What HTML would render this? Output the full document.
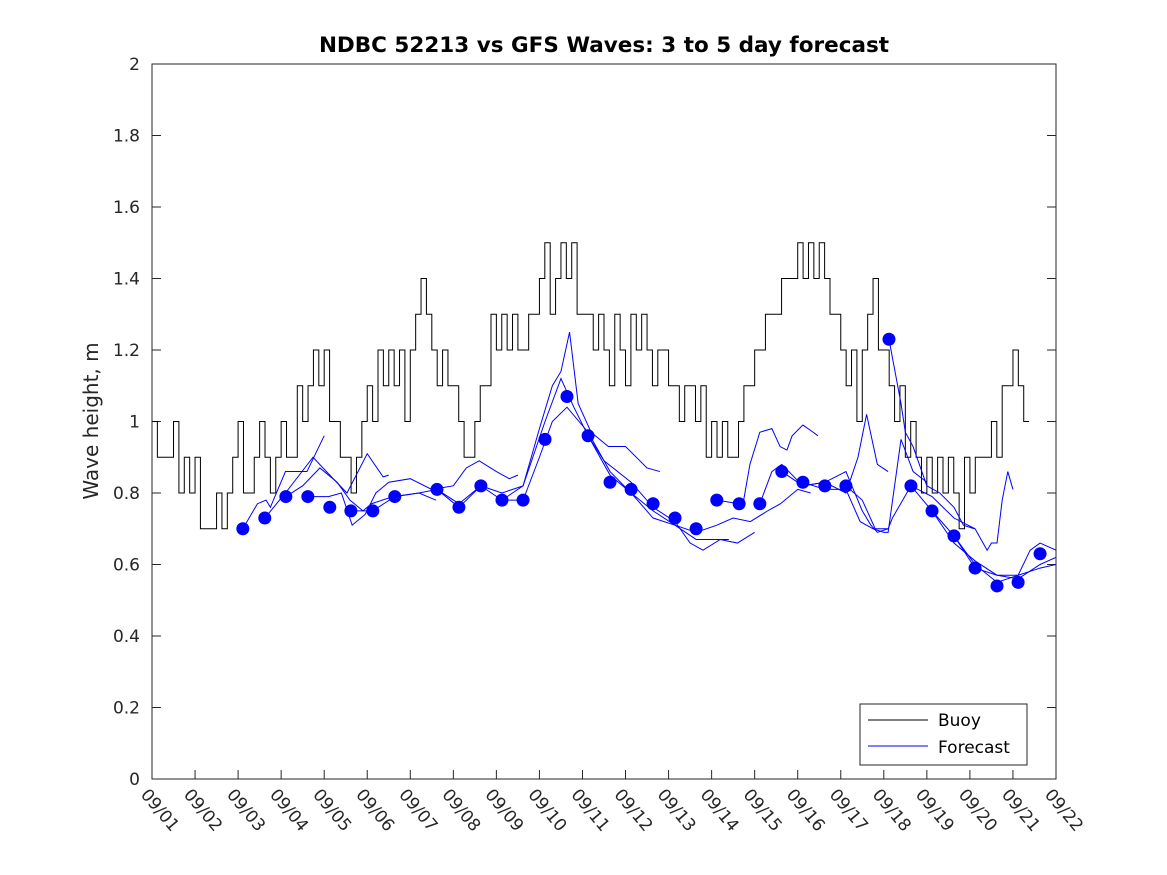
<!DOCTYPE html>
<html><head><meta charset="utf-8"><style>
body{margin:0;background:#fff;}
svg{display:block;font-family:"DejaVu Sans","Liberation Sans",sans-serif;}
</style></head><body>
<svg id="chart" width="1167" height="875" viewBox="0 0 1167 875" xmlns="http://www.w3.org/2000/svg">
<rect width="1167" height="875" fill="#fff"/>
<defs><clipPath id="clip"><rect x="152" y="64" width="904" height="715"/></clipPath></defs>
<text x="604" y="52" text-anchor="middle" font-size="21.5" font-weight="bold" fill="#000">NDBC 52213 vs GFS Waves: 3 to 5 day forecast</text>
<text transform="translate(98,421) rotate(-90)" text-anchor="middle" font-size="20" fill="#262626">Wave height, m</text>
<g id="axes"></g>
<g id="marks" clip-path="url(#clip)"></g>
<rect x="152" y="64" width="904" height="715" fill="none" stroke="#262626" stroke-width="1"/>
<g>
<rect x="860" y="704" width="167" height="61" fill="#fff" stroke="#262626" stroke-width="1"/>
<line x1="868" y1="720" x2="928" y2="720" stroke="#000" stroke-width="1"/>
<text x="938" y="726" font-size="17" fill="#000">Buoy</text>
<line x1="868" y1="746" x2="928" y2="746" stroke="#0000ff" stroke-width="1"/>
<text x="938" y="753" font-size="17" fill="#000">Forecast</text>
</g>
</svg>
<script>
const xTickLabels=["09/01","09/02","09/03","09/04","09/05","09/06","09/07","09/08","09/09","09/10","09/11","09/12","09/13","09/14","09/15","09/16","09/17","09/18","09/19","09/20","09/21","09/22"];
const yTicks=[0,0.2,0.4,0.6,0.8,1,1.2,1.4,1.6,1.8,2];
const yTickLabels=["0","0.2","0.4","0.6","0.8","1","1.2","1.4","1.6","1.8","2"];
const buoyStartDay=1;
const buoyStepDays=0.125;
const buoyValues=[1.0,0.9,0.9,0.9,1.0,0.8,0.9,0.8,
0.9,0.7,0.7,0.7,0.8,0.7,0.8,0.9,
1.0,0.8,0.8,0.9,1.0,0.9,0.8,0.9,
1.0,0.9,0.9,1.1,1.0,1.1,1.2,1.1,
1.2,1.0,1.0,0.9,0.9,0.8,0.9,1.0,
1.1,1.0,1.2,1.1,1.2,1.1,1.2,1.0,
1.2,1.3,1.4,1.3,1.2,1.1,1.2,1.1,
1.1,1.0,0.9,0.9,1.0,1.1,1.1,1.3,
1.2,1.3,1.2,1.3,1.2,1.2,1.3,1.3,
1.4,1.5,1.3,1.4,1.5,1.4,1.5,1.3,
1.3,1.3,1.2,1.3,1.2,1.1,1.3,1.2,
1.1,1.3,1.2,1.3,1.2,1.1,1.2,1.2,
1.1,1.1,1.0,1.1,1.1,1.0,1.1,0.9,
1.0,0.9,1.0,0.9,0.9,1.0,1.1,1.1,
1.2,1.2,1.3,1.3,1.3,1.4,1.4,1.4,
1.5,1.4,1.5,1.4,1.5,1.4,1.3,1.3,
1.2,1.1,1.2,1.0,1.2,1.3,1.4,1.2,
1.2,1.1,1.0,1.1,0.9,1.0,0.9,0.8,
0.9,0.8,0.9,0.8,0.9,0.8,0.7,0.9,
0.8,0.9,0.9,0.9,1.0,0.9,1.1,1.1,
1.2,1.1,1.0];
const markerDays=[3.11,3.62,4.11,4.62,5.13,5.62,6.13,6.64,7.62,8.13,8.64,9.13,9.62,10.13,10.64,11.13,11.64,12.13,12.64,13.15,13.64,14.12,14.64,15.12,15.63,16.12,16.63,17.12,18.12,18.63,19.12,19.63,20.12,20.63,21.12,21.63];
const markerValues=[0.70,0.73,0.79,0.79,0.76,0.75,0.75,0.79,0.81,0.76,0.82,0.78,0.78,0.95,1.07,0.96,0.83,0.81,0.77,0.73,0.70,0.78,0.77,0.77,0.86,0.83,0.82,0.82,1.23,0.82,0.75,0.68,0.59,0.54,0.55,0.63];
const fc1Days=[3.11,3.45,3.65,3.75,4.1,4.6,5.0];
const fc1Vals=[0.70,0.77,0.78,0.76,0.86,0.86,0.96];
const fc2Days=[3.62,4.1,4.74,5.13,5.53,6.0,6.37,6.5];
const fc2Vals=[0.73,0.80,0.90,0.85,0.80,0.91,0.845,0.85];
const fc3Days=[4.11,4.5,4.9,5.3,5.6,5.9,6.1,6.6,7.2,7.6];
const fc3Vals=[0.79,0.82,0.87,0.83,0.78,0.75,0.77,0.79,0.80,0.78];
const fc4Days=[4.62,5.1,5.4,5.65,5.95,6.2,6.5,7.0,7.5,8.0,8.3,8.6,9.0,9.3,9.5];
const fc4Vals=[0.79,0.79,0.80,0.71,0.74,0.80,0.83,0.84,0.81,0.82,0.87,0.89,0.86,0.84,0.85];
const fc5Days=[5.62,6.13,6.64,7.2,7.62,8.13,8.64,9.13,9.62,10.0,10.3,10.64,11.13,11.64,12.13,12.64,13.15,13.64,14.0,14.4];
const fc5Vals=[0.75,0.75,0.79,0.80,0.81,0.76,0.82,0.78,0.78,0.90,1.0,1.04,0.97,0.86,0.80,0.75,0.71,0.67,0.67,0.67];
const fc6Days=[7.62,8.13,8.64,9.13,9.62,10.0,10.3,10.5,10.7,10.9,11.2,11.6,12.0,12.5,12.8];
const fc6Vals=[0.81,0.77,0.82,0.80,0.82,0.98,1.10,1.14,1.25,1.05,0.97,0.93,0.93,0.87,0.86];
const fc7Days=[9.13,9.62,10.13,10.5,10.8,11.13,11.5,12.13,12.64,13.15,13.5,13.8,14.2,14.6,15.0];
const fc7Vals=[0.78,0.82,1.0,1.12,1.04,0.96,0.89,0.83,0.76,0.72,0.66,0.64,0.67,0.66,0.69];
const fc8Days=[11.13,11.64,12.13,12.64,13.15,13.64,14.12,14.5,14.9,15.3,15.6,16.0,16.3];
const fc8Vals=[0.96,0.85,0.80,0.73,0.71,0.69,0.71,0.73,0.72,0.75,0.77,0.81,0.80];
const fc9Days=[14.12,14.64,14.73,14.89,15.12,15.4,15.59,15.75,15.87,16.12,16.36,16.47];
const fc9Vals=[0.78,0.77,0.77,0.88,0.97,0.98,0.93,0.92,0.96,0.99,0.97,0.96];
const fc10Days=[15.12,15.4,15.63,16.12,16.63,17.12,17.5,17.7,17.85,18.1];
const fc10Vals=[0.77,0.86,0.88,0.82,0.83,0.86,0.75,0.71,0.69,0.70];
const fc11Days=[15.63,16.12,16.63,17.12,17.4,17.6,17.85,18.1];
const fc11Vals=[0.86,0.82,0.83,0.80,0.90,1.02,0.88,0.86];
const fc12Days=[16.12,16.63,17.12,17.45,17.75,18.0,18.1,18.4,18.68,19.0];
const fc12Vals=[0.83,0.81,0.81,0.72,0.70,0.69,0.69,0.95,0.86,0.83];
const fc13Days=[18.12,18.4,18.5,18.68,19.0,19.3,19.63,19.85,20.1];
const fc13Vals=[1.23,1.05,0.97,0.93,0.82,0.80,0.76,0.71,0.70];
const fc14Days=[17.12,17.5,17.8,18.1,18.2,18.63,19.12,19.63,20.12,20.4,20.5,20.63,20.75,20.88,21.0];
const fc14Vals=[0.82,0.78,0.70,0.70,0.73,0.82,0.79,0.73,0.70,0.64,0.66,0.66,0.78,0.86,0.81];
const fc15Days=[18.63,19.12,19.63,20.12,20.63,21.12,21.4,21.63,22.0];
const fc15Vals=[0.82,0.75,0.68,0.59,0.57,0.57,0.64,0.66,0.64];
const fc16Days=[19.12,19.63,20.12,20.63,21.12,21.63,22.0];
const fc16Vals=[0.75,0.66,0.61,0.57,0.56,0.60,0.62];
const fc17Days=[19.63,20.12,20.63,21.12,21.63,22.0];
const fc17Vals=[0.68,0.60,0.55,0.57,0.59,0.60];
const forecastDays=[fc1Days,fc2Days,fc3Days,fc4Days,fc5Days,fc6Days,fc7Days,fc8Days,fc9Days,fc10Days,fc11Days,fc12Days,fc13Days,fc14Days,fc15Days,fc16Days,fc17Days];
const forecastVals=[fc1Vals,fc2Vals,fc3Vals,fc4Vals,fc5Vals,fc6Vals,fc7Vals,fc8Vals,fc9Vals,fc10Vals,fc11Vals,fc12Vals,fc13Vals,fc14Vals,fc15Vals,fc16Vals,fc17Vals];

const NS="http://www.w3.org/2000/svg";
const X0=152,X1=1056,Y0=779,Y1=64;
function xScale(d){return X0+(d-1)/21*(X1-X0);}
function yScale(v){return Y0-v/2*(Y0-Y1);}
const axes=document.getElementById('axes');
const marks=document.getElementById('marks');
function mk(tag,attrs,parent){const e=document.createElementNS(NS,tag);for(const k in attrs)e.setAttribute(k,attrs[k]);parent.appendChild(e);return e;}

xTickLabels.forEach((lab,i)=>{
  const x=xScale(i+1);
  const t1=mk('line',{x1:x,y1:Y0,x2:x,y2:Y0-9,stroke:'#262626'},axes);
  
  
  const tx=mk('text',{transform:`translate(${x-12},${Y0+16}) rotate(50)`,'font-size':'17',fill:'#262626'},axes);
  tx.textContent=lab;
  
  
});
yTicks.forEach((v,i)=>{
  const y=yScale(v);
  const t1=mk('line',{x1:X0,y1:y,x2:X0+9,y2:y,stroke:'#262626'},axes);
  
  
  const t2=mk('line',{x1:X1,y1:y,x2:X1-9,y2:y,stroke:'#262626'},axes);
  
  
  const tx=mk('text',{x:X0-12,y:y+6,'text-anchor':'end','font-size':'17',fill:'#262626'},axes);
  tx.textContent=yTickLabels[i];
  
  
});

let d='';
buoyValues.forEach((v,i)=>{
  const x=xScale(buoyStartDay+i*buoyStepDays), y=yScale(v);
  if(i===0){d+=`M${x},${y}`;}else{d+=`L${x},${yScale(buoyValues[i-1])}L${x},${y}`;}
});
d+=`L${xScale(buoyStartDay+buoyValues.length*buoyStepDays)},${yScale(buoyValues[buoyValues.length-1])}`;
const bp=mk('path',{d:d,fill:'none',stroke:'#000','stroke-width':'1'},marks);



forecastDays.forEach((days,k)=>{
  const vals=forecastVals[k];
  const pts=days.map((dd,i)=>xScale(dd)+','+yScale(vals[i])).join(' ');
  const pl=mk('polyline',{points:pts,fill:'none',stroke:'#0000ff','stroke-width':'1'},marks);
  
  
});
markerDays.forEach((dd,i)=>{
  const c=mk('circle',{cx:xScale(dd),cy:yScale(markerValues[i]),r:6.5,fill:'#0000ff'},marks);
  
  
});
</script>
</body></html>
